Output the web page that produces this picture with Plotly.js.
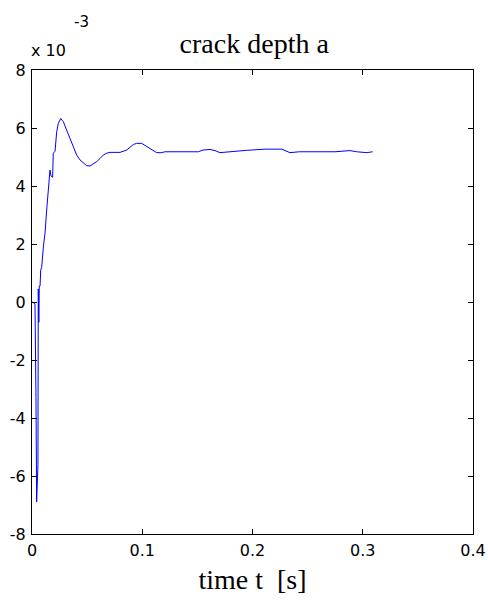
<!DOCTYPE html>
<html>
<head>
<meta charset="utf-8">
<script src="https://cdn.plot.ly/plotly-3.0.1.min.js"></script>
<style>html,body{margin:0;padding:0;background:#fff;}</style>
</head>
<body>
<div id="chart" style="width:488px;height:601px;"></div>
<script>
// time t [s]
const timeS = [0.0000, 0.0027, 0.0036, 0.0042, 0.0054, 0.0057, 0.0062, 0.0066, 0.0073, 0.0079, 0.0088,
  0.0103, 0.0118, 0.0133, 0.0148, 0.0163, 0.0172, 0.0178, 0.0187, 0.0193, 0.0209, 0.0224, 0.0239,
  0.0260, 0.0284, 0.0314, 0.0345, 0.0375, 0.0405, 0.0435, 0.0466, 0.0496, 0.0526, 0.0556, 0.0587,
  0.0617, 0.0647, 0.0677, 0.0707, 0.0798, 0.0859, 0.0919, 0.0949, 0.0995, 0.1040, 0.1085, 0.1131,
  0.1176, 0.1206, 0.1509, 0.1551, 0.1615, 0.1660, 0.1705, 0.1826, 0.1947, 0.2113, 0.2265, 0.2340,
  0.2425, 0.2748, 0.2884, 0.2945, 0.3036, 0.3090];
// crack depth a [x 10^-3]
const crackDepth = [0.00, -0.05, -3.30, -6.89, -5.60, 0.45, -0.70, 0.55, 0.55, 1.10, 1.20,
  1.90, 2.37, 3.17, 3.86, 4.55, 4.35, 4.32, 4.30, 5.13, 5.20, 5.87, 6.16,
  6.33, 6.22, 5.93, 5.64, 5.36, 5.07, 4.90, 4.78, 4.70, 4.69, 4.76, 4.84,
  4.95, 5.07, 5.13, 5.16, 5.16, 5.24, 5.43, 5.47, 5.47, 5.36, 5.24, 5.15,
  5.15, 5.18, 5.18, 5.24, 5.26, 5.22, 5.15, 5.20, 5.23, 5.27, 5.27, 5.15,
  5.18, 5.18, 5.22, 5.18, 5.15, 5.18];
const xTicks = [0, 0.1, 0.2, 0.3, 0.4];
const xTickText = ['0', '0.1', '0.2', '0.3', '0.4'];
const yTicks = [-8, -6, -4, -2, 0, 2, 4, 6, 8];
const yTickText = ['-8', '-6', '-4', '-2', '0', '2', '4', '6', '8'];

const trace = {
  x: timeS, y: crackDepth, type: 'scatter', mode: 'lines',
  line: {color: '#0000ff', width: 1}, hoverinfo: 'skip'
};

const sans = 'DejaVu Sans, Arial, sans-serif';
const serif = 'Liberation Serif, Times New Roman, serif';

const axisCommon = {
  showline: true, linecolor: '#000', linewidth: 1, mirror: 'ticks',
  ticks: 'inside', ticklen: 5, tickcolor: '#000', tickwidth: 1,
  showgrid: false, zeroline: false,
  tickfont: {family: sans, size: 16, color: '#000'}
};

const layout = {
  width: 488, height: 601,
  margin: {l: 32, r: 15, t: 70, b: 67},
  paper_bgcolor: '#fff', plot_bgcolor: '#fff',
  showlegend: false,
  title: {text: 'crack depth a', x: 0.521, xanchor: 'center', y: 0.928, yanchor: 'middle',
    font: {family: serif, size: 28, color: '#000'}},
  xaxis: Object.assign({}, axisCommon, {
    range: [0, 0.4], tickvals: xTicks, ticktext: xTickText, ticklabelstandoff: 2,
    title: {text: 'time t&nbsp; [s]', standoff: 10,
      font: {family: serif, size: 28, color: '#000'}}
  }),
  yaxis: Object.assign({}, axisCommon, {
    range: [-8, 8], tickvals: yTicks, ticktext: yTickText, ticklabelstandoff: 2
  }),
  annotations: [
    {text: 'x 10', xref: 'paper', yref: 'paper', x: 0, y: 1, xanchor: 'left', yanchor: 'bottom',
      xshift: -3, yshift: 8, showarrow: false,
      font: {family: sans, size: 16, color: '#000'}},
    {text: '-3', xref: 'paper', yref: 'paper', x: 0, y: 1, xanchor: 'left', yanchor: 'bottom',
      xshift: 40, yshift: 37, showarrow: false,
      font: {family: sans, size: 15, color: '#000'}}
  ]
};

Plotly.newPlot('chart', [trace], layout, {displayModeBar: false, staticPlot: true});
</script>
</body>
</html>
